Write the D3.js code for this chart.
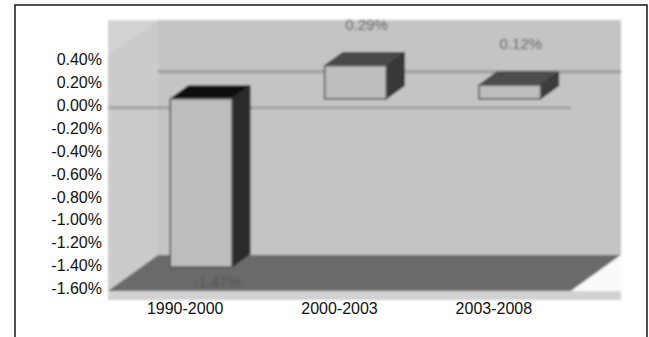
<!DOCTYPE html>
<html>
<head>
<meta charset="utf-8">
<script src="https://cdn.jsdelivr.net/npm/d3@7"></script>
<style>
  html, body { margin: 0; padding: 0; background: #fff; }
  svg { display: block; }
  text { font-family: "Liberation Sans", Arial, Helvetica, sans-serif; }
</style>
</head>
<body>
<svg id="chart" width="649" height="337"></svg>
<script>
// Average annual growth per period
const periods = ["1990-2000", "2000-2003", "2003-2008"];
const growth = [-1.47, 0.29, 0.12];
const valueLabels = ["-1.47%", "0.29%", "0.12%"];
const yTicks = [0.4, 0.2, 0, -0.2, -0.4, -0.6, -0.8, -1.0, -1.2, -1.4, -1.6];

const svg = d3.select("#chart");

// soft print-like rendering of the 3D plot
const defs = svg.append("defs");
defs.append("filter").attr("id", "soft")
  .attr("x", "-5%").attr("y", "-5%").attr("width", "110%").attr("height", "110%")
  .append("feGaussianBlur").attr("stdDeviation", 0.8);
defs.append("filter").attr("id", "softer")
  .attr("x", "-20%").attr("y", "-40%").attr("width", "140%").attr("height", "180%")
  .append("feGaussianBlur").attr("stdDeviation", 1.2);

// outer frame
svg.append("rect")
  .attr("x", 15).attr("y", 5).attr("width", 632).attr("height", 360)
  .attr("fill", "none").attr("stroke", "#222").attr("stroke-width", 1.6);

// front-plane scales
const y = d3.scaleLinear().domain([-1.6, 0.4]).range([291, 62]);
const x = d3.scaleBand().domain(periods).range([108, 571]);

// oblique depth of the chart box and of each column
const depth = { dx: 50, dy: -36 };
const colOffset = { dx: 16, dy: -9 };
const colDepth = { dx: 18, dy: -13 };
const colW = x.bandwidth() * 0.4;
const wallTopVal = 0.45;

const x0 = x.range()[0], x1 = x.range()[1];
const yMin = y(-1.6), yTop = y(wallTopVal), yZero = y(0);

const plot = svg.append("g").attr("filter", "url(#soft)");

// plot area background
plot.append("rect")
  .attr("x", x0).attr("y", yTop + depth.dy)
  .attr("width", x1 + depth.dx - x0).attr("height", yMin + 9 - (yTop + depth.dy))
  .attr("fill", "#d2d2d2");

const poly = pts => pts.map(p => p.join(",")).join(" ");

// back wall
plot.append("polygon")
  .attr("points", poly([
    [x0 + depth.dx, yTop + depth.dy], [x1 + depth.dx, yTop + depth.dy],
    [x1 + depth.dx, yMin + depth.dy], [x0 + depth.dx, yMin + depth.dy]
  ]))
  .attr("fill", "#c4c4c4");

// side wall
plot.append("polygon")
  .attr("points", poly([
    [x0, yTop], [x0 + depth.dx, yTop + depth.dy],
    [x0 + depth.dx, yMin + depth.dy], [x0, yMin]
  ]))
  .attr("fill", "#cbcbcb");

// floor
plot.append("polygon")
  .attr("points", poly([
    [x0, yMin], [x1, yMin], [x1 + depth.dx, yMin + depth.dy], [x0 + depth.dx, yMin + depth.dy]
  ]))
  .attr("fill", "#6b6b6b");

// open corner right of the floor
plot.append("polygon")
  .attr("points", poly([
    [x1, yMin], [x1 + depth.dx, yMin + depth.dy], [x1 + depth.dx, yMin]
  ]))
  .attr("fill", "#fafafa");

// gridline at zero on the back wall
plot.append("line")
  .attr("x1", x0 + depth.dx).attr("x2", x1 + depth.dx)
  .attr("y1", yZero + depth.dy).attr("y2", yZero + depth.dy)
  .attr("stroke", "#9c9c9c").attr("stroke-width", 3);

// zero line at the front
plot.append("line")
  .attr("x1", x0).attr("x2", x1)
  .attr("y1", yZero).attr("y2", yZero)
  .attr("stroke", "#a2a2a2").attr("stroke-width", 3);

// columns
const topFill = ["#0c0c0c", "#4a4a4a", "#4e4e4e"];
const sideFill = ["#2a2a2a", "#383838", "#3c3c3c"];

periods.forEach((p, i) => {
  const v = growth[i];
  const fx = x(p) + (x.bandwidth() - colW) / 2 + colOffset.dx;
  const yt = Math.min(y(0), y(v)) + colOffset.dy;
  const yb = Math.max(y(0), y(v)) + colOffset.dy;
  const g = plot.append("g");

  g.append("polygon")
    .attr("points", poly([
      [fx + colW, yt], [fx + colW + colDepth.dx, yt + colDepth.dy],
      [fx + colW + colDepth.dx, yb + colDepth.dy], [fx + colW, yb]
    ]))
    .attr("fill", sideFill[i]).attr("stroke", "#333").attr("stroke-width", 1);

  g.append("polygon")
    .attr("points", poly([
      [fx, yt], [fx + colW, yt],
      [fx + colW + colDepth.dx, yt + colDepth.dy], [fx + colDepth.dx, yt + colDepth.dy]
    ]))
    .attr("fill", topFill[i]).attr("stroke", "#333").attr("stroke-width", 1);

  g.append("rect")
    .attr("x", fx).attr("y", yt).attr("width", colW).attr("height", yb - yt)
    .attr("fill", "#bdbdbd").attr("stroke", "#555").attr("stroke-width", 1.6);
});

// value labels
svg.append("g").attr("filter", "url(#softer)")
  .selectAll("text").data(periods).join("text")
  .attr("x", (p, i) => x(p) + x.bandwidth() / 2 + colOffset.dx + (growth[i] < 0 ? 16 : 11))
  .attr("y", (p, i) => growth[i] < 0
    ? y(growth[i]) + colOffset.dy + 19.5
    : y(growth[i]) + colOffset.dy - 36)
  .attr("text-anchor", "middle")
  .attr("font-size", 15)
  .attr("fill", (p, i) => growth[i] < 0 ? "#555" : "#6a6a6a")
  .text((p, i) => valueLabels[i]);

// value axis
const yAxis = svg.append("g")
  .attr("transform", "translate(102,0)")
  .call(d3.axisLeft(y).tickValues(yTicks).tickSize(0).tickPadding(0)
    .tickFormat(d => d.toFixed(2) + "%"));
yAxis.select(".domain").remove();
yAxis.selectAll("text")
  .attr("y", -2.5)
  .attr("font-size", 16)
  .attr("font-family", "Liberation Sans, Arial, sans-serif")
  .attr("fill", "#111");

// category axis
const xAxis = svg.append("g")
  .attr("transform", `translate(0,${yMin})`)
  .call(d3.axisBottom(x).tickSize(0).tickPadding(12));
xAxis.select(".domain").remove();
xAxis.selectAll("text")
  .attr("font-size", 16)
  .attr("font-family", "Liberation Sans, Arial, sans-serif")
  .attr("fill", "#111");
</script>
</body>
</html>
